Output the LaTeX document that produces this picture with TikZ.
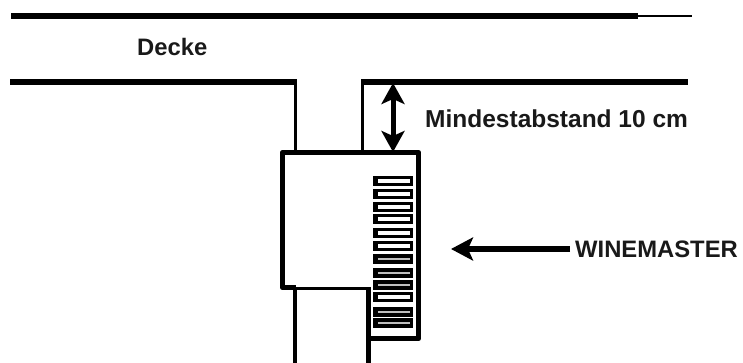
\documentclass[tikz,border=0pt]{standalone}
\usepackage{fontspec}
\setmainfont{Liberation Sans}
\usetikzlibrary{arrows.meta}
\tikzset{
  thickline/.style={line width=5.5pt,line cap=butt},
  midline/.style={line width=3.8pt,line join=miter},
  lbl/.style={font=\bfseries\fontsize{23.8}{28}\selectfont,inner sep=0pt,text=black!90},
  ventbox/.style={fill=black},
  bigarrow/.style={-{Stealth[length=22pt,width=23pt,inset=5pt]},line width=5.5pt},
  dblarrow/.style={{Stealth[length=21pt,width=23pt,inset=5pt]}-{Stealth[length=21pt,width=23pt,inset=5pt]},line width=5pt}
}
\begin{document}
\begin{tikzpicture}[x=1pt,y=-1pt]
\useasboundingbox (0,0) rectangle (743,363);
% ceiling
\draw[thickline] (11,16) -- (638,16);
\draw[line width=2.8pt] (638,16) -- (692,16);
\draw[thickline] (10,82) -- (297,82);
\draw[thickline] (361,82) -- (688,82);
\draw[midline] (295.5,80) -- (295.5,152);
\draw[midline] (362.5,80) -- (362.5,152);
% housing
\draw[line width=5.5pt,line join=round] (368,338.5) -- (418.5,338.5) -- (418.5,152.5) -- (282.5,152.5) -- (282.5,287.5) -- (296,287.5);
\draw[line width=3.8pt] (294,288.5) -- (370,288.5);
% pipe below
\draw[midline] (295.3,288) -- (295.3,363);
\draw[line width=5.5pt] (368.5,287) -- (368.5,363);
% vents
\foreach \y in {176,189,202,214,228,241,254,268,280,292,307,318}{
  \fill[ventbox] (373,\y) rectangle (413,\y+10);
}
\foreach \y in {176,189,202,214,228,241,292}{
  \fill[white] (377.5,\y+3) rectangle (409.5,\y+7);
}
\foreach \y in {254,268,280,307,318}{
  \fill[black!25] (377.5,\y+4) rectangle (409.5,\y+6);
}
% arrows
\coordinate (dimtop) at (393,83);
\coordinate (dimbot) at (393,152);
\draw[dblarrow] (dimtop) -- (dimbot);
\node[lbl,anchor=west] (wm) at (575,249) {WINEMASTER};
\coordinate (wmtip) at (451,249);
\draw[bigarrow] (wm.west) ++(-5,0) -- (wmtip);
\node[lbl,anchor=west] (dist) at (425,119) {\fontsize{24.5}{28}\selectfont Mindestabstand 10 cm};
\node[lbl,anchor=west] (decke) at (137,47) {Decke};
\end{tikzpicture}
\end{document}
